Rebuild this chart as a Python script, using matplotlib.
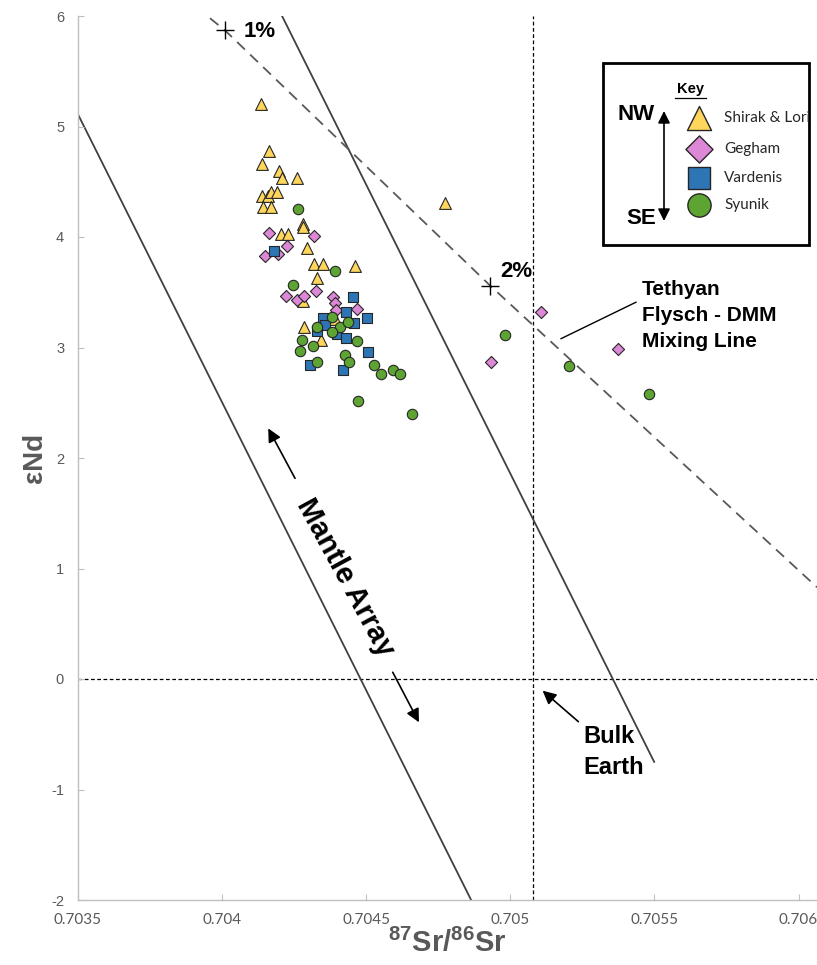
import matplotlib
matplotlib.use("Agg")
import matplotlib.pyplot as plt
from matplotlib.patches import Rectangle

plt.rcParams["font.family"] = ["Liberation Sans", "DejaVu Sans"]
plt.rcParams["mathtext.fontset"] = "custom"
plt.rcParams["mathtext.rm"] = "Liberation Sans:bold"
plt.rcParams["mathtext.it"] = "Liberation Sans:bold"
plt.rcParams["mathtext.bf"] = "Liberation Sans:bold"
plt.rcParams["axes.unicode_minus"] = False

# ---------------- data ----------------
shirak_sr = [0.704135, 0.704163, 0.704137, 0.704198, 0.704207, 0.704261, 0.704137,
             0.704160, 0.704169, 0.704192, 0.704143, 0.704169, 0.704773, 0.704280,
             0.704280, 0.704204, 0.704230, 0.704294, 0.704320, 0.704349, 0.704461,
             0.704328, 0.704280, 0.704284, 0.704392, 0.704342]
shirak_nd = [5.20, 4.78, 4.66, 4.60, 4.53, 4.53, 4.37,
             4.37, 4.41, 4.41, 4.27, 4.27, 4.31, 4.12,
             4.09, 4.03, 4.03, 3.90, 3.76, 3.76, 3.74,
             3.63, 3.42, 3.19, 3.26, 3.07]

gegham_sr = [0.704163, 0.704320, 0.704224, 0.704149, 0.704195, 0.704221, 0.704259,
             0.704284, 0.704325, 0.704386, 0.704392, 0.704395, 0.704467, 0.705106,
             0.704933, 0.705375]
gegham_nd = [4.04, 4.01, 3.92, 3.83, 3.85, 3.47, 3.43,
             3.47, 3.51, 3.46, 3.40, 3.34, 3.35, 3.32,
             2.87, 2.99]

vardenis_sr = [0.704180, 0.704455, 0.704430, 0.704351, 0.704357, 0.704458, 0.704504,
               0.704328, 0.704398, 0.704430, 0.704505, 0.704305, 0.704421]
vardenis_nd = [3.87, 3.46, 3.32, 3.27, 3.20, 3.22, 3.27,
               3.15, 3.12, 3.09, 2.96, 2.84, 2.80]

syunik_sr = [0.704264, 0.704392, 0.704245, 0.704328, 0.704380, 0.704409, 0.704438,
             0.704380, 0.704276, 0.704270, 0.704316, 0.704467, 0.704328, 0.704426,
             0.704441, 0.704528, 0.704551, 0.704592, 0.704617, 0.704473, 0.704658,
             0.704982, 0.705205, 0.705482]
syunik_nd = [4.25, 3.69, 3.57, 3.19, 3.28, 3.19, 3.23,
             3.14, 3.07, 2.97, 3.01, 3.06, 2.87, 2.93,
             2.87, 2.84, 2.76, 2.80, 2.76, 2.52, 2.40,
             3.11, 2.83, 2.58]

# mantle array bounding lines
mantle_low_sr = [0.70350, 0.704864]
mantle_low_nd = [5.11, -2.0]
mantle_high_sr = [0.704208, 0.705499]
mantle_high_nd = [6.0, -0.75]

# Tethyan flysch - DMM mixing line and its percentage marks
mixing_sr = [0.703958, 0.704010, 0.704930, 0.706064]
mixing_nd = [5.98, 5.87, 3.56, 0.83]
mix_pct_sr = [0.704010, 0.704930]
mix_pct_nd = [5.87, 3.56]
mix_pct_labels = ["1%", "2%"]

bulk_earth_sr = 0.705077
bulk_earth_nd = 0.0

x_ticks = [0.7035, 0.704, 0.7045, 0.705, 0.7055, 0.706]
x_tick_labels = ["0.7035", "0.704", "0.7045", "0.705", "0.7055", "0.706"]
y_ticks = [-2, -1, 0, 1, 2, 3, 4, 5, 6]

groups = ["Shirak & Lori", "Gegham", "Vardenis", "Syunik"]
group_markers = ["^", "D", "s", "o"]
group_colors = ["#FFD65C", "#DC88D6", "#2E75B6", "#5EA432"]

# ---------------- figure ----------------
W, H = 817, 965
fig = plt.figure(figsize=(W / 100, H / 100), dpi=100)
ax = fig.add_axes([78 / W, 65 / H, (W - 78) / W, 884 / H])
ax.set_xlim(0.7035, 0.706064)
ax.set_ylim(-2, 6)

grey = "#BFBFBF"
for side in ["top", "right"]:
    ax.spines[side].set_visible(False)
for side in ["left", "bottom"]:
    ax.spines[side].set_color(grey)
    ax.spines[side].set_linewidth(1.0)

ax.set_xticks(x_ticks)
ax.set_xticklabels(x_tick_labels)
ax.set_yticks(y_ticks)
ax.tick_params(axis="both", direction="in", length=4, color=grey,
               labelcolor="#595959", labelsize=11)
ax.tick_params(axis="x", pad=9)
ax.tick_params(axis="y", pad=10, labelsize=10.5)
for lab in ax.get_xticklabels():
    lab.set_fontfamily(["Lato", "DejaVu Sans"])

ax.set_xlabel(r"$^{87}$Sr/$^{86}$Sr", fontsize=21, fontweight="bold",
              color="#595959", labelpad=2)
ax.set_ylabel("εNd", fontsize=20, fontweight="bold", color="#595959",
              labelpad=2)

# reference lines
ax.axhline(bulk_earth_nd, color="black", lw=0.9, ls=(0, (3, 2)), zorder=1)
ax.axvline(bulk_earth_sr, color="black", lw=0.9, ls=(0, (3, 2)), zorder=1)
ax.plot(mantle_low_sr, mantle_low_nd, color="#404040", lw=1.3, zorder=1)
ax.plot(mantle_high_sr, mantle_high_nd, color="#404040", lw=1.3, zorder=1)
ax.plot(mixing_sr, mixing_nd, color="#595959", lw=1.3, ls=(0, (6, 4)), zorder=1)
ax.plot(mix_pct_sr, mix_pct_nd, ls="none", marker="+", ms=13, mew=1.0,
        color="black", zorder=3)
label_offsets = [(0.000063, -0.01), (0.000034, 0.13)]
for sx, sy, lab, (dx, dy) in zip(mix_pct_sr, mix_pct_nd, mix_pct_labels, label_offsets):
    ax.text(sx + dx, sy + dy, lab, fontsize=16, fontweight="bold",
            ha="left", va="center")

# sample groups
series = [(shirak_sr, shirak_nd, 72), (gegham_sr, gegham_nd, 38),
          (vardenis_sr, vardenis_nd, 52), (syunik_sr, syunik_nd, 56)]
for (xs, ys, size), mk, col in zip(series, group_markers, group_colors):
    ax.scatter(xs, ys, s=size, marker=mk, facecolor=col, edgecolor="#262626",
               linewidth=0.8, zorder=4)

# annotations
ax.text(0.705457, 3.29, "Tethyan\nFlysch - DMM\nMixing Line", fontsize=15,
        fontweight="bold", ha="left", va="center", linespacing=1.45)
ax.plot([0.705436, 0.705176], [3.41, 3.08], color="black", lw=1.0)

ax.text(0.705252, -0.66, "Bulk\nEarth", fontsize=17, fontweight="bold",
        ha="left", va="center", linespacing=1.45)
arrow = dict(arrowstyle="-|>", color="black", lw=1.2, mutation_scale=20,
             shrinkA=0, shrinkB=0)
ax.annotate("", xy=(0.705112, -0.106), xytext=(0.705236, -0.386), arrowprops=arrow)

ax.text(0.704426, 0.92, "Mantle Array", fontsize=21, fontweight="bold",
        rotation=-61.5, rotation_mode="anchor", ha="center", va="center")
ax.annotate("", xy=(0.704160, 2.268), xytext=(0.704253, 1.816), arrowprops=arrow)
ax.annotate("", xy=(0.704683, -0.392), xytext=(0.704592, 0.061), arrowprops=arrow)

# ---------------- key box (pixel overlay) ----------------
ov = fig.add_axes([0, 0, 1, 1], zorder=5)
ov.set_xlim(0, W)
ov.set_ylim(H, 0)
ov.axis("off")
ov.patch.set_alpha(0)

ov.add_patch(Rectangle((603.5, 63), 206, 182, facecolor="white",
                       edgecolor="black", lw=2.0))
ov.text(690.5, 89, "Key", fontsize=10.5, fontweight="bold", ha="center", va="center")
ov.plot([675, 706], [97.5, 97.5], color="black", lw=0.9)
ov.text(636.5, 114, "NW", fontsize=16, fontweight="bold", ha="center", va="center")
ov.text(641, 218, "SE", fontsize=16, fontweight="bold", ha="center", va="center")
key_arrow = dict(arrowstyle="<|-|>", color="black", lw=1.2, mutation_scale=18,
                 shrinkA=0, shrinkB=0)
ov.annotate("", xy=(664, 111), xytext=(664, 221), arrowprops=key_arrow)

key_y = [118, 149, 178, 205]
key_sizes = [300, 190, 240, 280]
for name, mk, col, ky, ks in zip(groups, group_markers, group_colors, key_y, key_sizes):
    ov.scatter([699], [ky], s=ks, marker=mk, facecolor=col, edgecolor="#262626",
               linewidth=1.0)
    ov.text(724, ky, name, fontsize=11, ha="left", va="center", color="#262626",
            fontfamily=["Lato", "DejaVu Sans"])

fig.savefig("out.png", dpi=100)
